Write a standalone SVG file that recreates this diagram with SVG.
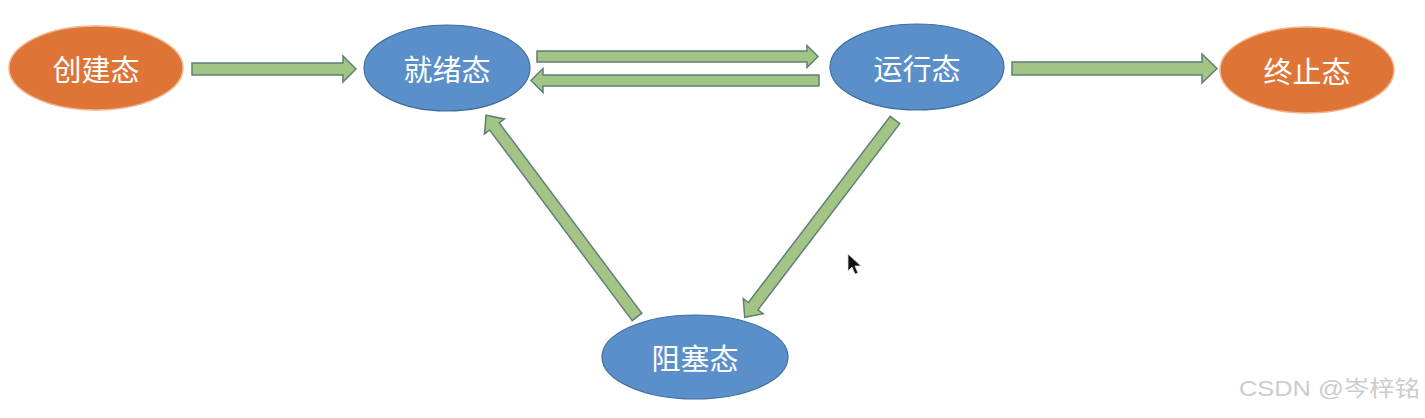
<svg xmlns="http://www.w3.org/2000/svg" width="1425" height="418" viewBox="0 0 1425 418">
<style>
.orange{fill:#DF7437;stroke:#F2B48C;stroke-width:1.5}
.blue{fill:#5A8FC9;stroke:#3F6E9E;stroke-width:1.2}
.lbl{font-family:"Noto Sans CJK SC","Noto Sans",sans-serif;font-size:29px;fill:#FFFFFF;text-anchor:middle;dominant-baseline:central}
.arr{fill:#A2C585;stroke:#5F7F78;stroke-width:1.5;stroke-linejoin:miter}
.wm{font-family:"Liberation Sans","Noto Sans CJK SC",sans-serif;font-size:22px;fill:#CCCCCC}
</style>
<rect width="1425" height="418" fill="#FFFFFF"/>
<g id="connectors">
<polygon class="arr" transform="translate(192,69)" points="0,-6 151,-6 151,-13 164,0 151,13 151,6 0,6"/>
<polygon class="arr" transform="translate(537,56.5)" points="0,-5.5 270,-5.5 270,-11 281,0 270,11 270,5.5 0,5.5"/>
<polygon class="arr" transform="translate(819,80.5) rotate(180)" points="0,-5.5 276,-5.5 276,-12 288,0 276,12 276,5.5 0,5.5"/>
<polygon class="arr" transform="translate(1012,68.5)" points="0,-6.5 190,-6.5 190,-14.5 205,0 190,14.5 190,6.5 0,6.5"/>
<polygon class="arr" transform="translate(637,317) rotate(-126.8)" points="0,-6 238,-6 238,-12.5 252,0 238,12.5 238,6 0,6"/>
<polygon class="arr" transform="translate(895,120) rotate(127.3)" points="0,-6 234,-6 234,-12.5 248,0 234,12.5 234,6 0,6"/>
</g>
<g id="node-create">
<ellipse class="orange" cx="96" cy="68" rx="87" ry="42"/>
<text class="lbl" x="96" y="68">创建态</text>
</g>
<g id="node-ready">
<ellipse class="blue" cx="447" cy="68" rx="83" ry="43"/>
<text class="lbl" x="447" y="68">就绪态</text>
</g>
<g id="node-running">
<ellipse class="blue" cx="917" cy="67" rx="87" ry="43"/>
<text class="lbl" x="917" y="67">运行态</text>
</g>
<g id="node-terminated">
<ellipse class="orange" cx="1307" cy="70" rx="87" ry="43"/>
<text class="lbl" x="1307" y="70">终止态</text>
</g>
<g id="node-blocked">
<ellipse class="blue" cx="695" cy="357" rx="93" ry="42"/>
<text class="lbl" x="695" y="357">阻塞态</text>
</g>
<polygon points="848,254 848,271 852,267 855,274 858,273 855,266 861,266" fill="#111111" stroke="#DDDDDD" stroke-width="0.8"/>
<text class="wm" x="1239" y="396" textLength="181" lengthAdjust="spacingAndGlyphs">CSDN @岑梓铭</text>
</svg>
